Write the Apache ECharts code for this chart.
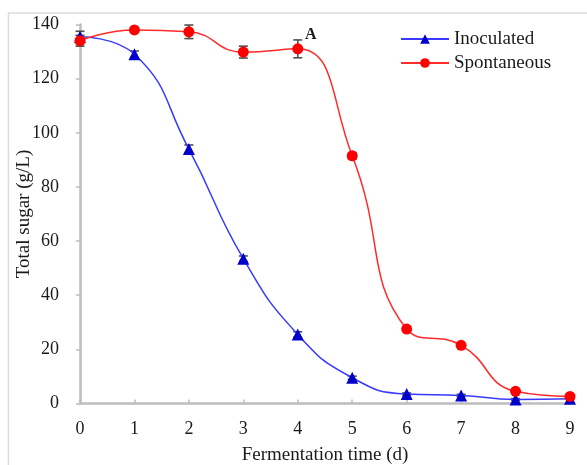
<!DOCTYPE html>
<html>
<head>
<meta charset="utf-8">
<script src="https://cdn.jsdelivr.net/npm/echarts@6/dist/echarts.min.js"></script>
<style>
  html, body { margin: 0; padding: 0; background: #fff; }
  #chart { width: 587px; height: 465px; }
</style>
</head>
<body>
<div id="chart"></div>
<script>
// Fermentation day on the x axis
const days = [0, 1, 2, 3, 4, 5, 6, 7, 8, 9];

// Total sugar (g/L) for each fermentation
const inoculated = [135.5, 129, 94, 53.5, 25.5, 9.5, 3.5, 3, 1.5, 1.8];
const spontaneous = [134, 138, 137.3, 129.8, 131, 91.5, 27.5, 21.5, 4.5, 2.6];

// Standard deviations for the error bars
const inoculatedErr = [2, 1.2, 1.5, 1, 1, 0.6, 0.4, 0.4, 0.3, 0.3];
const spontaneousErr = [2, 0.8, 2.5, 2.2, 3.3, 1.2, 0.6, 0.5, 0.5, 0.5];

const yTicks = { min: 0, max: 140, interval: 20 };
const xTicks = { min: 0, max: 9, interval: 1 };

const serif = '"Liberation Serif", "DejaVu Serif", serif';

function pairs(vals) { return days.map((d, i) => [d, vals[i]]); }
function errRows(vals, errs) { return days.map((d, i) => [d, vals[i] - errs[i], vals[i] + errs[i]]); }

function errorBar(params, api) {
  const x = api.value(0);
  const lo = api.coord([x, api.value(1)]);
  const hi = api.coord([x, api.value(2)]);
  const half = 4.5;
  const style = { stroke: '#505050', lineWidth: 1.6 };
  return {
    type: 'group',
    children: [
      { type: 'line', shape: { x1: lo[0], y1: lo[1], x2: hi[0], y2: hi[1] }, style },
      { type: 'line', shape: { x1: lo[0] - half, y1: lo[1], x2: lo[0] + half, y2: lo[1] }, style },
      { type: 'line', shape: { x1: hi[0] - half, y1: hi[1], x2: hi[0] + half, y2: hi[1] }, style }
    ]
  };
}

const chart = echarts.init(document.getElementById('chart'), null, { renderer: 'canvas' });

chart.setOption({
  animation: false,
  backgroundColor: '#fff',
  textStyle: { fontFamily: serif },
  grid: { left: 80, right: 17, top: 24.5, bottom: 61.5, outerBoundsMode: 'none', containLabel: false },
  legend: {
    orient: 'vertical',
    left: 400,
    top: 29.5,
    padding: 0,
    itemWidth: 48,
    itemHeight: 12,
    itemGap: 5,
    data: ['Inoculated', 'Spontaneous'],
    textStyle: { fontFamily: serif, fontSize: 19, color: '#1a1a1a', lineHeight: 19 }
  },
  xAxis: {
    type: 'value',
    min: xTicks.min, max: xTicks.max, interval: xTicks.interval,
    name: 'Fermentation time (d)',
    nameLocation: 'middle',
    nameGap: 42,
    nameMoveOverlap: false,
    nameTextStyle: { fontFamily: serif, fontSize: 19, color: '#1a1a1a' },
    axisLine: { lineStyle: { color: '#bdbdbd', width: 2.5 } },
    axisTick: { inside: true, length: 4, lineStyle: { color: '#bdbdbd', width: 1.5 } },
    axisLabel: { fontFamily: serif, fontSize: 18, color: '#1a1a1a', margin: 17 },
    splitLine: { show: false }
  },
  yAxis: {
    type: 'value',
    min: yTicks.min, max: yTicks.max, interval: yTicks.interval,
    name: 'Total sugar (g/L)',
    nameLocation: 'middle',
    nameGap: 46,
    nameRotate: 90,
    nameMoveOverlap: false,
    nameTextStyle: { fontFamily: serif, fontSize: 19, color: '#1a1a1a' },
    axisLine: { show: true, lineStyle: { color: '#bdbdbd', width: 2.5 } },
    axisTick: { show: true, length: 4, lineStyle: { color: '#bdbdbd', width: 1.5 } },
    axisLabel: { fontFamily: serif, fontSize: 18, color: '#1a1a1a', margin: 21 },
    splitLine: { show: false }
  },
  graphic: [
    {
      type: 'rect',
      shape: { x: 8.5, y: 13, width: 700, height: 700 },
      style: { fill: 'none', stroke: '#dcdcdc', lineWidth: 1.5 },
      silent: true, z: -1
    },
    {
      type: 'text',
      left: 305, top: 27,
      style: { text: 'A', font: 'bold 16px ' + serif, fill: '#1a1a1a' }
    }
  ],
  series: [
    {
      type: 'custom',
      name: 'inoculated error',
      renderItem: errorBar,
      data: errRows(inoculated, inoculatedErr),
      z: 1,
      silent: true
    },
    {
      type: 'custom',
      name: 'spontaneous error',
      renderItem: errorBar,
      data: errRows(spontaneous, spontaneousErr),
      z: 1,
      silent: true
    },
    {
      name: 'Inoculated',
      type: 'line',
      smooth: 0.5,
      data: pairs(inoculated),
      symbol: 'triangle',
      symbolSize: 12,
      lineStyle: { color: '#3a3aff', width: 1.5 },
      itemStyle: { color: '#0000cc', borderWidth: 0 },
      z: 3
    },
    {
      name: 'Spontaneous',
      type: 'line',
      smooth: 0.5,
      data: pairs(spontaneous),
      symbol: 'circle',
      symbolSize: 11,
      lineStyle: { color: '#ff2a2a', width: 1.5 },
      itemStyle: { color: '#ff0000', borderWidth: 0 },
      z: 4
    }
  ]
});
</script>
</body>
</html>
